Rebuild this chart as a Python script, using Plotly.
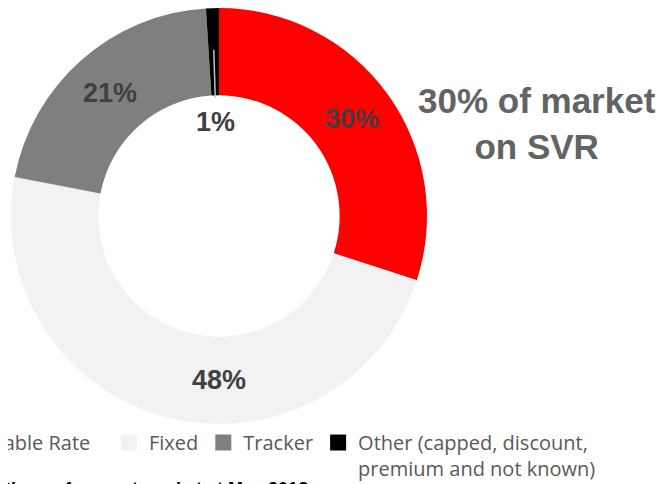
import math
import plotly.graph_objects as go

# ---- data ----
categories = ["Standard Variable Rate", "Fixed", "Tracker",
              "Other (capped, discount,<br>premium and not known)"]
shares = [30, 48, 21, 1]
slice_labels = ["30%", "48%", "21%", "1%"]
colors = ["#FF0000", "#F2F2F2", "#7F7F7F", "#000000"]
callout = "30% of market<br>on SVR"
footer = "Share of current market at May 2018"

W, H = 667, 484
HOLE = 0.58
cx, cy, R = 211, 208, 208   # pie placement in figure pixels

fig = go.Figure()
fig.add_trace(go.Pie(
    labels=categories, values=shares, marker=dict(colors=colors, line=dict(width=0)),
    hole=HOLE, sort=False, direction="clockwise", rotation=0,
    textinfo="none", hoverinfo="label+percent", showlegend=False,
    domain=dict(x=[(cx - R) / W, (cx + R) / W], y=[max(0, 1 - (cy + R) / H), min(1, 1 - (cy - R) / H)]),
))

# legend entries (square swatches), split over two legends as in the original layout
for i, (name, col) in enumerate(zip(categories, colors)):
    fig.add_trace(go.Scatter(
        x=[None], y=[None], mode="markers", name=name,
        marker=dict(symbol="square", size=16, color=col, line=dict(width=0)),
        legend="legend" if i == 0 else "legend2", hoverinfo="skip",
    ))

# slice label placement: angle (fraction of circle) and radius (fraction of R)
total = sum(shares)
cum = 0
mids = []
for v in shares:
    mids.append((cum + v / 2) / total)
    cum += v
label_pos = [(mids[0], (1 + HOLE) / 2), (0.5, (1 + HOLE) / 2),
             (mids[2], (1 + HOLE) / 2), (None, None)]
lab_font = dict(family="Liberation Sans", size=27, color="#404040")
annotations = []
for (frac, rr), txt in zip(label_pos, slice_labels):
    if frac is None:
        continue
    th = 2 * math.pi * frac
    px = cx + R * rr * math.sin(th)
    py = cy - R * rr * math.cos(th)
    annotations.append(dict(x=px / W, y=1 - py / H, xref="paper", yref="paper",
                            xanchor="center", yanchor="middle",
                            text="<b>" + txt + "</b>", showarrow=False, font=lab_font))

# "1%" label inside the hole with a leader line to the small slice
th = 2 * math.pi * mids[3]
lx = cx + R * 0.80 * math.sin(th)
ly = cy - R * 0.80 * math.cos(th)
annotations.append(dict(x=lx / W, y=1 - ly / H, xref="paper", yref="paper",
                        text="<b>" + slice_labels[3] + "</b>", showarrow=True, arrowhead=0,
                        arrowcolor="#BFBFBF", arrowwidth=1.5, ax=208 - lx, ay=114 - ly,
                        startstandoff=8, font=lab_font))

annotations.append(dict(x=529 / W, y=1 - 116 / H, xref="paper", yref="paper",
                        xanchor="center", yanchor="middle",
                        text="<b>" + callout + "</b>", showarrow=False,
                        font=dict(family="Liberation Sans", size=35, color="#636363")))
annotations.append(dict(x=-11 / W, y=1 - 469 / H, xref="paper", yref="paper",
                        xanchor="left", yanchor="top",
                        text="<b>" + footer + "</b>", showarrow=False,
                        font=dict(family="Liberation Sans", size=18, color="#000000")))

leg_font = dict(family="Open Sans", size=20, color="#595959")
fig.update_layout(
    width=W, height=H,
    margin=dict(l=0, r=0, t=0, b=0, autoexpand=False),
    paper_bgcolor="white", plot_bgcolor="white",
    xaxis=dict(visible=False), yaxis=dict(visible=False),
    showlegend=True,
    legend=dict(orientation="h", x=88 / W, xanchor="right", y=1 - 415 / H, yanchor="top",
                valign="top", font=leg_font, itemwidth=30, bgcolor="rgba(0,0,0,0)"),
    legend2=dict(orientation="h", x=101 / W, xanchor="left", y=1 - 415 / H, yanchor="top",
                 valign="top", font=leg_font, itemwidth=30, traceorder="normal",
                 bgcolor="rgba(0,0,0,0)"),
    annotations=annotations,
)

fig.write_html("out.html")
